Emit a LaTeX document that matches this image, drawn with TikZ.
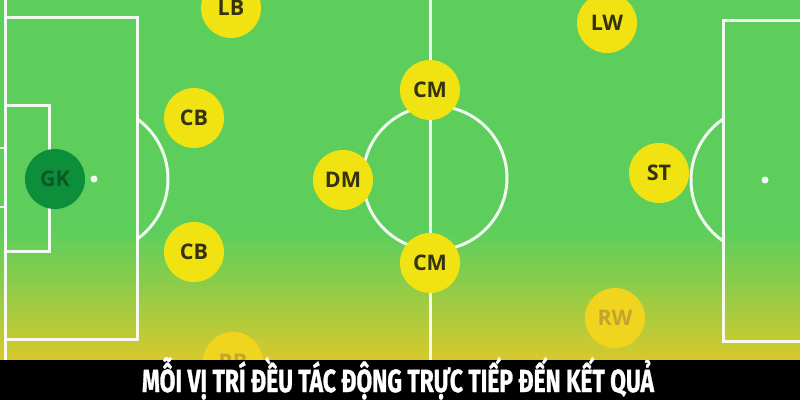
\documentclass[tikz,border=0pt]{standalone}
\usepackage{fontspec}
\setmainfont{Open Sans}
\newfontfamily\bannerfont[FakeBold=1.2]{Fira Sans}
\usepackage{graphicx}
\definecolor{pitchgreen}{HTML}{5DCE5C}
\definecolor{pitchmid}{HTML}{98CC45}
\definecolor{pitchyellow}{HTML}{D8C92C}
\definecolor{plyellow}{HTML}{F1E212}
\definecolor{pltext}{HTML}{35320F}
\definecolor{fadeyellow}{HTML}{F0D41E}
\definecolor{fadetext}{HTML}{C2A52E}
\definecolor{gkgreen}{HTML}{0C8E3A}
\definecolor{gktext}{HTML}{0A5A25}
\tikzset{
  pline/.style={draw=white, draw opacity=0.9, line width=3pt},
  player/.style={circle, fill=plyellow, minimum size=60pt, inner sep=0pt, text=pltext, font=\bfseries\fontsize{21.5}{21.5}\selectfont},
  fadedplayer/.style={player, fill=fadeyellow, text=fadetext},
  keeper/.style={player, fill=gkgreen, text=gktext},
  spot/.style={fill=white, fill opacity=0.9}
}
\begin{document}
\begin{tikzpicture}[x=1pt,y=-1pt]
\useasboundingbox (0,0) rectangle (800,400);
\clip (0,0) rectangle (800,400);
% pitch
\fill[pitchgreen] (0,0) rectangle (800,232);
\shade[top color=pitchgreen, bottom color=pitchmid] (0,231) rectangle (800,296);
\shade[top color=pitchmid, bottom color=pitchyellow] (0,295) rectangle (800,361);
% left end
\draw[pline] (5,0) -- (5,360);
\draw[pline] (5,17) -- (137,17) -- (137,339) -- (5,339);
\draw[pline] (5,105) -- (49,105) -- (49,251) -- (5,251);
\draw[pline, line width=1.5pt] (0,148) -- (5,148);
\draw[pline, line width=1.5pt] (0,207) -- (5,207);
\fill[spot] (94,179) circle[radius=3.5pt];
\begin{scope}
  \clip (137,0) rectangle (300,360);
  \draw[pline] (94,179) circle[radius=74pt];
\end{scope}
% centre
\draw[pline] (430,0) -- (430,360);
\draw[pline] (435,178) circle[radius=72pt];
% right end
\draw[pline] (800,20) -- (723,20) -- (723,341) -- (800,341);
\fill[spot] (765,180) circle[radius=3.5pt];
\begin{scope}
  \clip (600,0) rectangle (723,360);
  \draw[pline] (765,180) circle[radius=74pt];
\end{scope}
% players
\node[keeper] (gk) at (55,179) {GK};
\node[player] (lb) at (231,8) {LB};
\node[player] (cb1) at (194,118) {CB};
\node[player] (cb2) at (194,252) {CB};
\node[fadedplayer] (rb) at (233,362) {RB};
\node[player] (dm) at (343,180) {DM};
\node[player] (cm1) at (430,90) {CM};
\node[player] (cm2) at (430,263) {CM};
\node[player] (lw) at (607,23) {LW};
\node[player] (st) at (659,173) {ST};
\node[fadedplayer] (rw) at (615,318) {RW};
% banner
\fill[black] (0,360) rectangle (800,400);
\node[anchor=base, text=white, inner sep=0pt] (caption) at (398,392)
  {\resizebox{512pt}{\height}{\bannerfont\bfseries\fontsize{32}{32}\selectfont MỖI VỊ TRÍ ĐỀU TÁC ĐỘNG TRỰC TIẾP ĐẾN KẾT QUẢ}};
\end{tikzpicture}
\end{document}
